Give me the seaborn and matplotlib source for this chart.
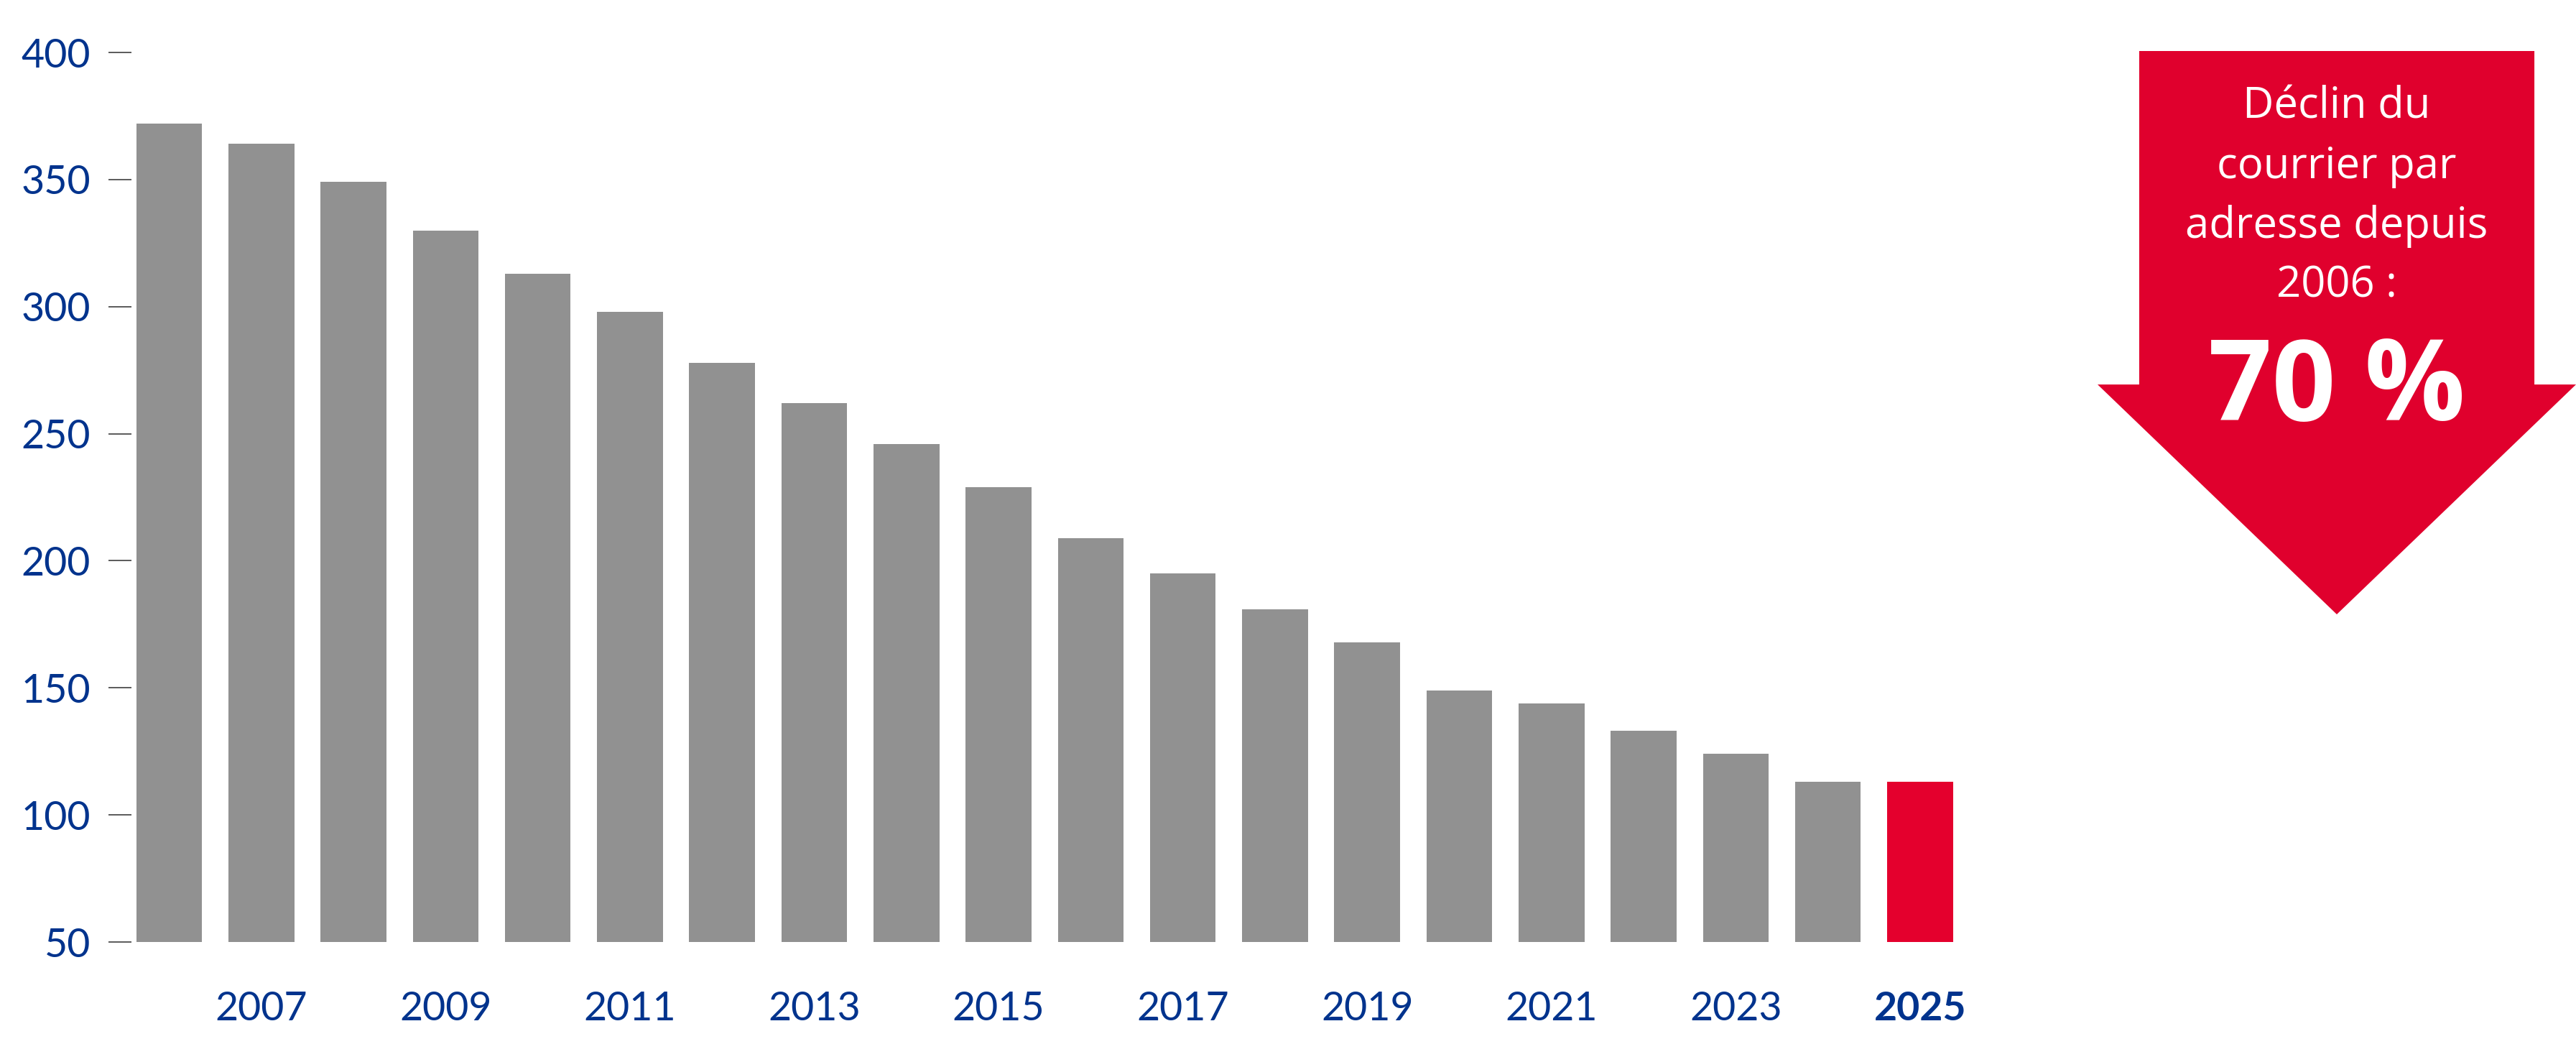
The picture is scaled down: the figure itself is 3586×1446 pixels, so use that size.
import matplotlib
matplotlib.use("Agg")
import matplotlib.pyplot as plt
from matplotlib.patches import Polygon
import seaborn as sns
import pandas as pd

# Courrier adressé par adresse (envois), 2006 -> 2025
YEARS  = list(range(2006, 2026))
VALUES = [372, 364, 349, 330, 313, 298, 278, 262, 246, 229,
          209, 195, 181, 168, 149, 144, 133, 124, 113, 113]
Y_TICKS = [50, 100, 150, 200, 250, 300, 350, 400]

GREY  = "#919191"
RED   = "#E4002D"
NAVY  = "#00338D"

sns.set_theme(style="white")
plt.rcParams["font.family"] = ["Lato", "DejaVu Sans"]

df = pd.DataFrame({"year": [str(y) for y in YEARS], "value": VALUES})
palette = {str(y): (RED if y == YEARS[-1] else GREY) for y in YEARS}

W, H = 3586, 1446
fig = plt.figure(figsize=(W / 100, H / 100), dpi=100)

# main bar axes (pixel placement measured from reference)
ax_l, ax_r, ax_t, ax_b = 183, 2737, 73, 1311
ax = fig.add_axes([ax_l / W, (H - ax_b) / H, (ax_r - ax_l) / W, (ax_b - ax_t) / H])

sns.barplot(data=df, x="year", y="value", hue="year", palette=palette,
            width=0.714, legend=False, ax=ax, saturation=1, edgecolor="none")

ax.set_ylim(50, 400)
ax.set_xlim(-0.41, len(YEARS) - 0.5)
ax.set_yticks(Y_TICKS)
ax.set_yticklabels([str(v) for v in Y_TICKS])
ax.set_xticks(range(len(YEARS)))
ax.set_xticklabels([str(y) if y % 2 == 1 else "" for y in YEARS])
ax.set_xlabel("")
ax.set_ylabel("")
sns.despine(ax=ax, left=True, bottom=True)

ax.tick_params(axis="y", left=True, direction="out", length=23, width=1.3,
               color="#4d4d4d", pad=18, labelsize=40, labelcolor=NAVY)
ax.tick_params(axis="x", bottom=False, length=0, pad=49, labelsize=40,
               labelcolor=NAVY)
for lbl in ax.get_xticklabels():
    if lbl.get_text() == str(YEARS[-1]):
        lbl.set_fontweight("bold")

# red arrow callout
ar_l, ar_r, ar_t, ar_b = 2920, 3586, 71, 855
ax2 = fig.add_axes([ar_l / W, (H - ar_b) / H, (ar_r - ar_l) / W, (ar_b - ar_t) / H])
ax2.set_xlim(0, 1)
ax2.set_ylim(0, 1)
ax2.axis("off")
shaft_l, shaft_r, wing_y = 0.087, 0.913, 0.408
arrow = Polygon([(shaft_l, 1), (shaft_r, 1), (shaft_r, wing_y), (1, wing_y),
                 (0.5, 0), (0, wing_y), (shaft_l, wing_y)],
                closed=True, facecolor="#E0002D", edgecolor="none")
ax2.add_patch(arrow)
ax2.text(0.5, 0.742, "Déclin du\ncourrier par\nadresse depuis\n2006 :",
         ha="center", va="center", color="white", fontsize=43,
         linespacing=1.5, family=["Open Sans", "DejaVu Sans"])
ax2.text(0.5, 0.396, "70 %", ha="center", va="center", color="white",
         fontsize=112, fontweight="bold", family=["Open Sans", "DejaVu Sans"])

fig.savefig("out.png", dpi=100)
